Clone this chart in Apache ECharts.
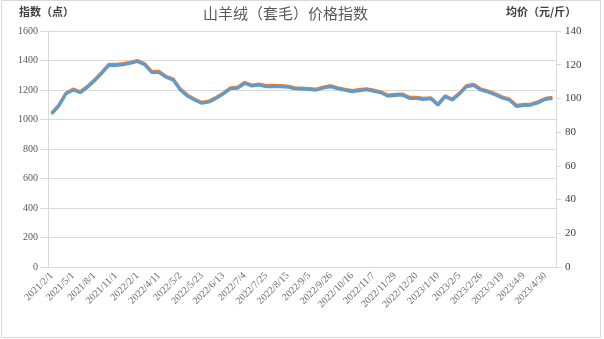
<!DOCTYPE html>
<html>
<head>
<meta charset="utf-8">
<script src="https://cdn.jsdelivr.net/npm/echarts@6/dist/echarts.min.js"></script>
<style>html,body{margin:0;padding:0;background:#fff;}#c{width:604px;height:339px;}</style>
</head>
<body>
<div id="c"></div>
<script>
const categories = [
 '2021/2/1','2021/3/1','2021/4/1','2021/5/1','2021/6/1','2021/7/1','2021/8/1','2021/9/1','2021/10/1','2021/11/1',
 '2021/12/1','2022/1/1','2022/2/1','2022/3/1','2022/4/1','2022/4/11','2022/4/18','2022/4/25','2022/5/2','2022/5/9',
 '2022/5/16','2022/5/23','2022/5/30','2022/6/6','2022/6/13','2022/6/20','2022/6/27','2022/7/4','2022/7/11','2022/7/18',
 '2022/7/25','2022/8/1','2022/8/8','2022/8/15','2022/8/22','2022/8/29','2022/9/5','2022/9/12','2022/9/19','2022/9/26',
 '2022/10/3','2022/10/9','2022/10/16','2022/10/24','2022/10/31','2022/11/7','2022/11/14','2022/11/21','2022/11/29','2022/12/6',
 '2022/12/13','2022/12/20','2022/12/27','2023/1/3','2023/1/10','2023/1/17','2023/1/29','2023/2/5','2023/2/12','2023/2/19',
 '2023/2/26','2023/3/5','2023/3/12','2023/3/19','2023/3/26','2023/4/2','2023/4/9','2023/4/16','2023/4/23','2023/4/30',
 '2023/5/7'
];
const indexValues = [
 1044,1098,1180,1207,1189,1225,1270,1320,1374,1374,
 1379,1388,1401,1379,1327,1327,1293,1275,1207,1166,
 1139,1117,1126,1151,1180,1216,1220,1252,1234,1241,
 1230,1232,1230,1227,1216,1214,1211,1207,1220,1230,
 1216,1205,1196,1203,1209,1200,1189,1166,1171,1173,
 1151,1151,1144,1148,1105,1162,1139,1180,1230,1239,
 1207,1194,1175,1153,1139,1096,1103,1105,1121,1144,
 1151
];
const priceValues = [
 90.7,95.4,102.6,104.9,103.4,106.5,110.4,114.8,119.5,119.5,
 120.0,120.8,121.9,120.0,115.4,115.4,112.5,110.9,104.9,101.3,
 99.0,97.1,97.8,100.0,102.6,105.7,106.1,108.9,107.3,107.9,
 106.9,107.1,106.9,106.7,105.7,105.5,105.3,104.9,106.1,106.9,
 105.7,104.8,104.0,104.6,105.1,104.3,103.4,101.3,101.8,102.0,
 100.0,100.0,99.4,99.8,96.0,101.0,99.0,102.6,106.9,107.7,
 104.9,103.8,102.1,100.2,99.0,95.2,95.8,96.0,97.4,99.4,
 100.0
];
const leftTicks = {min: 0, max: 1600, interval: 200};
const rightTicks = {min: 0, max: 140, interval: 20};

const chart = echarts.init(document.getElementById('c'), null, {renderer: 'canvas'});
const serif = '"Liberation Serif", "DejaVu Serif", serif';
const cjk = '"Noto Sans CJK SC", sans-serif';
chart.setOption({
  animation: false,
  backgroundColor: '#ffffff',
  graphic: [
    {type: 'rect', shape: {x: 1.5, y: 0.5, width: 599, height: 337}, style: {fill: 'none', stroke: '#d9d9d9', lineWidth: 1}, silent: true},
    {type: 'text', left: 290 - 87, top: 6, style: {text: '山羊绒（套毛）价格指数', font: '15px ' + cjk, fill: '#595959'}},
    {type: 'text', left: 19, top: 6, style: {text: '指数（点）', font: 'bold 11px ' + cjk, fill: '#404040'}},
    {type: 'text', left: 506, top: 6, style: {text: '均价（元/斤）', font: 'bold 11px ' + cjk, fill: '#404040'}}
  ],
  grid: {left: 48, right: 48, top: 31, bottom: 72, containLabel: false},
  xAxis: {
    type: 'category',
    data: categories,
    boundaryGap: true,
    axisLine: {show: true, lineStyle: {color: '#d9d9d9'}},
    axisTick: {show: false},
    axisLabel: {interval: 2, rotate: 45, fontSize: 10, fontFamily: serif, color: '#6b6b6b', margin: 7},
    splitLine: {show: false}
  },
  yAxis: [
    {
      type: 'value', min: leftTicks.min, max: leftTicks.max, interval: leftTicks.interval,
      axisLine: {show: true, lineStyle: {color: '#d9d9d9'}},
      axisTick: {show: true, length: 8, lineStyle: {color: '#d9d9d9'}},
      axisLabel: {fontSize: 10, fontFamily: serif, color: '#595959', margin: 10, formatter: v => String(v)},
      splitLine: {show: true, lineStyle: {color: '#d9d9d9', width: 1}}
    },
    {
      type: 'value', min: rightTicks.min, max: rightTicks.max, interval: rightTicks.interval,
      position: 'right',
      axisLine: {show: true, lineStyle: {color: '#d9d9d9'}},
      axisTick: {show: true, length: 5, lineStyle: {color: '#d9d9d9'}},
      axisLabel: {fontSize: 11, fontFamily: serif, color: '#404040', margin: 9, formatter: v => String(v)},
      splitLine: {show: false}
    }
  ],
  series: [
    {
      name: '指数', type: 'line', yAxisIndex: 0, data: indexValues,
      showSymbol: false, symbol: 'none',
      lineStyle: {color: '#ED7D31', width: 3}, itemStyle: {color: '#ED7D31'}
    },
    {
      name: '均价', type: 'line', yAxisIndex: 1, data: priceValues,
      showSymbol: false, symbol: 'none',
      lineStyle: {color: '#5B9BD5', width: 3}, itemStyle: {color: '#5B9BD5'}
    }
  ]
});
</script>
</body>
</html>
